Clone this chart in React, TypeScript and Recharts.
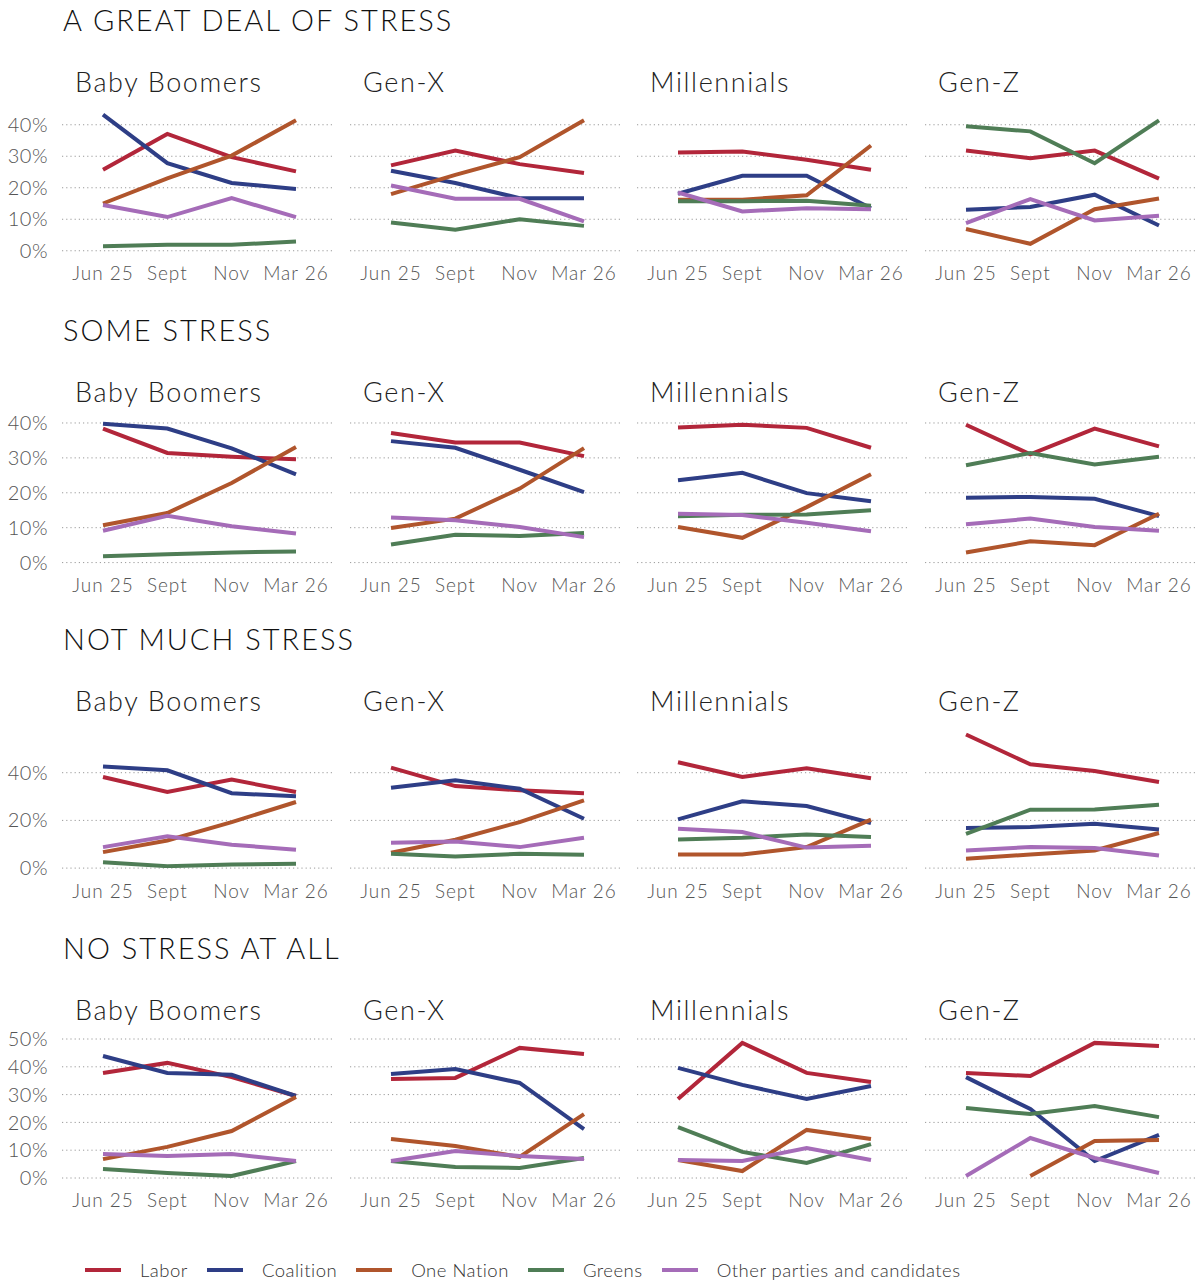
import React from "react";
import { LineChart, Line, XAxis, YAxis, CartesianGrid } from "recharts";

// ---------- data ----------
const PERIODS = ["Jun 25", "Sept", "Nov", "Mar 26"];
const PARTIES = ["Labor", "Coalition", "One Nation", "Greens", "Other parties and candidates"];
const PARTY_COLORS = ["#B2263A", "#2E3E86", "#B0552C", "#4F7D56", "#A56CB8"];
const GENERATIONS = ["Baby Boomers", "Gen-X", "Millennials", "Gen-Z"];
const STRESS_LEVELS = ["A GREAT DEAL OF STRESS", "SOME STRESS", "NOT MUCH STRESS", "NO STRESS AT ALL"];

// Each panel: [Labor, Coalition, One Nation, Greens, Other] over PERIODS (percent)
const GREAT_DEAL_BOOMERS = [[25.7, 37.1, 29.7, 25.2], [43.2, 27.8, 21.5, 19.6], [15.0, 23.0, 30.2, 41.4], [1.4, 1.9, 1.9, 2.9], [14.5, 10.7, 16.7, 10.7]];
const GREAT_DEAL_GENX = [[27.1, 31.8, 27.5, 24.7], [25.4, 21.5, 16.7, 16.7], [18.0, 24.1, 29.7, 41.4], [9.0, 6.7, 10.0, 7.9], [20.7, 16.5, 16.5, 9.3]];
const GREAT_DEAL_MILLENNIALS = [[31.2, 31.5, 28.9, 25.7], [18.1, 23.8, 23.8, 13.5], [16.2, 16.2, 17.6, 33.4], [15.7, 15.7, 15.9, 14.3], [18.5, 12.5, 13.5, 13.2]];
const GREAT_DEAL_GENZ = [[31.8, 29.4, 31.8, 22.9], [13.0, 13.9, 17.8, 8.0], [6.9, 2.2, 13.2, 16.6], [39.5, 37.9, 27.8, 41.4], [8.8, 16.4, 9.6, 11.1]];

const SOME_BOOMERS = [[38.4, 31.4, 30.3, 29.6], [39.8, 38.4, 32.7, 25.3], [10.7, 14.2, 22.8, 33.1], [1.8, 2.4, 2.9, 3.2], [9.1, 13.4, 10.4, 8.3]];
const SOME_GENX = [[37.1, 34.4, 34.4, 30.5], [34.8, 32.9, 26.6, 20.2], [9.9, 12.6, 21.2, 32.8], [5.2, 8.0, 7.6, 8.5], [12.9, 12.1, 10.2, 7.3]];
const SOME_MILLENNIALS = [[38.7, 39.5, 38.6, 32.9], [23.6, 25.7, 19.9, 17.6], [10.2, 7.1, 15.9, 25.3], [13.3, 13.7, 13.8, 15.0], [14.0, 13.6, 11.4, 9.0]];
const SOME_GENZ = [[39.5, 31.0, 38.4, 33.3], [18.6, 18.8, 18.3, 13.3], [2.9, 6.1, 5.0, 14.0], [27.9, 31.4, 28.1, 30.3], [11.0, 12.6, 10.2, 9.1]];

const NOT_MUCH_BOOMERS = [[38.2, 31.9, 37.1, 31.9], [42.6, 41.0, 31.4, 30.1], [6.7, 11.6, 19.3, 27.7], [2.5, 0.8, 1.5, 1.8], [8.8, 13.3, 9.8, 7.7]];
const NOT_MUCH_GENX = [[42.1, 34.4, 32.6, 31.4], [33.7, 36.8, 33.3, 20.7], [6.4, 11.9, 19.3, 28.4], [6.0, 4.9, 6.0, 5.6], [10.6, 11.2, 8.8, 12.7]];
const NOT_MUCH_MILLENNIALS = [[44.4, 38.2, 41.9, 37.7], [20.4, 28.0, 26.0, 18.9], [5.7, 5.7, 8.8, 20.3], [12.0, 12.7, 14.1, 13.0], [16.5, 15.1, 8.6, 9.4]];
const NOT_MUCH_GENZ = [[56.0, 43.5, 40.7, 36.1], [16.8, 17.2, 18.6, 16.2], [3.9, 5.7, 7.4, 14.7], [14.4, 24.5, 24.6, 26.6], [7.4, 8.8, 8.4, 5.3]];

const NONE_BOOMERS = [[37.8, 41.4, 36.3, 29.5], [43.9, 37.8, 37.1, 29.5], [6.8, 11.2, 16.9, 29.1], [3.2, 1.8, 0.7, 6.1], [8.6, 7.9, 8.6, 6.1]];
const NONE_GENX = [[35.6, 36.0, 46.8, 44.6], [37.4, 39.2, 34.2, 17.6], [14.0, 11.5, 7.6, 23.0], [6.1, 4.0, 3.6, 7.2], [6.1, 9.7, 7.9, 6.8]];
const NONE_MILLENNIALS = [[28.4, 48.6, 37.8, 34.5], [39.6, 33.5, 28.4, 33.1], [6.5, 2.5, 17.3, 14.0], [18.3, 9.4, 5.4, 12.2], [6.5, 6.1, 10.8, 6.5]];
const NONE_GENZ = [[37.8, 36.7, 48.6, 47.5], [36.3, 24.8, 6.1, 15.5], [null, 0.7, 13.3, 13.7], [25.2, 23.0, 25.9, 21.9], [0.7, 14.4, 7.2, 1.8]];

const PANELS = [
  [GREAT_DEAL_BOOMERS, GREAT_DEAL_GENX, GREAT_DEAL_MILLENNIALS, GREAT_DEAL_GENZ],
  [SOME_BOOMERS, SOME_GENX, SOME_MILLENNIALS, SOME_GENZ],
  [NOT_MUCH_BOOMERS, NOT_MUCH_GENX, NOT_MUCH_MILLENNIALS, NOT_MUCH_GENZ],
  [NONE_BOOMERS, NONE_GENX, NONE_MILLENNIALS, NONE_GENZ],
];

const Y_TICKS = [
  [0, 10, 20, 30, 40],
  [0, 10, 20, 30, 40],
  [0, 20, 40],
  [0, 10, 20, 30, 40, 50],
];
const Y_MAX = [45, 42, 60, 50];

// ---------- layout ----------
const FONT = "Lato, 'Noto Sans', sans-serif";
const PLOT_W = 272;
const COL_LEFT = [62, 350, 637, 925];
const ROW_ZERO_Y = [251, 562.5, 867.7, 1177.5];
const ROW_PX_PER_PCT = [3.15, 3.49, 2.385, 2.78];
const ROW_TITLE_Y = [20, 330, 639, 948];
const ROW_SUB_Y = [82, 392, 701, 1010];
const TOP_PAD = 18;
const AXIS_H = 40;
const Y_AXIS_W = 62;

function Panel({ row, col }: { row: number; col: number }) {
  const series = PANELS[row][col];
  const data = PERIODS.map((p, i) => {
    const o: any = { period: p };
    PARTIES.forEach((party, j) => {
      o[party] = series[j][i];
    });
    return o;
  });
  const plotH = Y_MAX[row] * ROW_PX_PER_PCT[row];
  const plotTop = ROW_ZERO_Y[row] - plotH;
  const first = col === 0;
  const width = PLOT_W + (first ? Y_AXIS_W : 0);
  const left = COL_LEFT[col] - (first ? Y_AXIS_W : 0);
  return (
    <div style={{ position: "absolute", left, top: plotTop - TOP_PAD }}>
      <LineChart
        width={width}
        height={plotH + TOP_PAD + AXIS_H}
        data={data}
        margin={{ top: TOP_PAD, right: 0, bottom: 0, left: 0 }}
      >
        <CartesianGrid
          vertical={false}
          horizontalValues={Y_TICKS[row]}
          stroke="#9a9a9a"
          strokeDasharray="1.2 3"
        />
        <XAxis
          dataKey="period"
          axisLine={false}
          tickLine={false}
          height={AXIS_H}
          padding={{ left: 41, right: 38 }}
          tickMargin={10}
          interval={0}
          tick={{ fill: "#555", fontSize: 19, fontFamily: FONT, fontWeight: 300, letterSpacing: 1 }}
        />
        <YAxis
          hide={!first}
          width={Y_AXIS_W}
          domain={[0, Y_MAX[row]]}
          ticks={Y_TICKS[row]}
          interval={0}
          allowDataOverflow
          axisLine={false}
          tickLine={false}
          tickMargin={8}
          tickFormatter={(v: number) => `${v}%`}
          tick={{ fill: "#555", fontSize: 20, fontFamily: FONT, fontWeight: 300, letterSpacing: 0.5 }}
        />
        {PARTIES.map((party, j) => (
          <Line
            key={party}
            type="linear"
            dataKey={party}
            stroke={PARTY_COLORS[j]}
            strokeWidth={4}
            dot={false}
            activeDot={false}
            isAnimationActive={false}
            connectNulls={false}
          />
        ))}
      </LineChart>
    </div>
  );
}

function Legend() {
  return (
    <div
      style={{
        position: "absolute",
        left: 85,
        top: 1258,
        display: "flex",
        alignItems: "center",
        fontFamily: FONT,
        fontWeight: 300,
        fontSize: 18.5,
        color: "#333",
        height: 24,
      }}
    >
      {PARTIES.map((p, j) => (
        <div key={p} style={{ display: "flex", alignItems: "center", marginRight: 19 }}>
          <div style={{ width: 36, height: 4, background: PARTY_COLORS[j], marginRight: 19 }} />
          <span style={{ letterSpacing: 0.5 }}>{p}</span>
        </div>
      ))}
    </div>
  );
}

export default function App() {
  return (
    <div
      style={{
        position: "absolute",
        left: 0,
        top: 0,
        width: 1202,
        height: 1283,
        background: "#fff",
        fontFamily: FONT,
        overflow: "hidden",
      }}
    >
      {STRESS_LEVELS.map((lvl, r) => (
        <React.Fragment key={lvl}>
          <div
            style={{
              position: "absolute",
              left: 63,
              top: ROW_TITLE_Y[r] - 20,
              height: 40,
              lineHeight: "40px",
              fontSize: 29,
              fontWeight: 300,
              color: "#111",
              letterSpacing: 2,
              whiteSpace: "nowrap",
            }}
          >
            {lvl}
          </div>
          {GENERATIONS.map((g, c) => (
            <div
              key={g}
              style={{
                position: "absolute",
                left: COL_LEFT[c] + 13,
                top: ROW_SUB_Y[r] - 20,
                height: 40,
                lineHeight: "40px",
                fontSize: 27,
                fontWeight: 300,
                color: "#222",
                letterSpacing: 1.6,
                whiteSpace: "nowrap",
              }}
            >
              {g}
            </div>
          ))}
          {GENERATIONS.map((g, c) => (
            <Panel key={g + "p"} row={r} col={c} />
          ))}
        </React.Fragment>
      ))}
      <Legend />
    </div>
  );
}
